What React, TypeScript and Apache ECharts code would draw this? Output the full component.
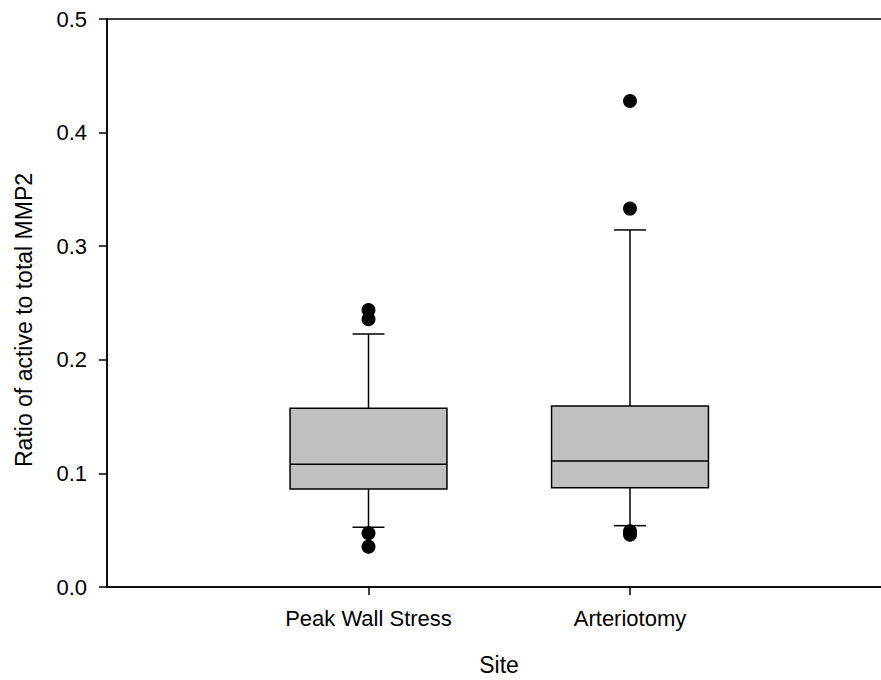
import React, { useEffect, useRef } from "react";
import * as echarts from "echarts";

// Sites on the x axis and where they sit on the value scale
const sites = ["Peak Wall Stress", "Arteriotomy"];
const sitePositions = [1, 2];

// Box summary per site
const lowerWhisker = [0.0526, 0.054];
const quartile1 = [0.0863, 0.0874];
const medians = [0.108, 0.1109];
const quartile3 = [0.1573, 0.1593];
const upperWhisker = [0.2227, 0.3143];

// Points beyond the whiskers
const outliersPeakWallStress = [0.2438, 0.2357, 0.0473, 0.0355];
const outliersArteriotomy = [0.4278, 0.3331, 0.049, 0.046];

const yTicks = [0, 0.1, 0.2, 0.3, 0.4, 0.5];

const FONT = 'Arial, "Liberation Sans", Helvetica, sans-serif';

export default function App() {
  const ref = useRef<HTMLDivElement>(null);

  useEffect(() => {
    if (!ref.current) return;
    const chart = echarts.init(ref.current, undefined, { renderer: "svg" });

    const boxData = sitePositions.map((x, i) => [
      x,
      lowerWhisker[i],
      quartile1[i],
      medians[i],
      quartile3[i],
      upperWhisker[i],
    ]);

    const outlierData = [
      ...outliersPeakWallStress.map((v) => [sitePositions[0], v]),
      ...outliersArteriotomy.map((v) => [sitePositions[1], v]),
    ];

    const line = (x1: number, y1: number, x2: number, y2: number) => ({
      type: "line",
      shape: { x1, y1, x2, y2 },
      style: { stroke: "#000", lineWidth: 1.5 },
    });

    chart.setOption({
      animation: false,
      grid: {
        left: 107,
        top: 19,
        right: -10.5,
        bottom: 93,
        outerBoundsMode: "none",
        containLabel: false,
        show: true,
        borderColor: "#000",
        borderWidth: 1.5,
        backgroundColor: "transparent",
      },
      xAxis: {
        type: "value",
        min: 0,
        max: 3,
        interval: 1,
        axisLine: { show: true, onZero: false, lineStyle: { color: "#000", width: 1.5 } },
        axisTick: {
          show: true,
          inside: false,
          length: 8,
          customValues: sitePositions,
          lineStyle: { color: "#000", width: 1.5 },
        },
        axisLabel: {
          customValues: sitePositions,
          formatter: (v: number) => {
            const i = sitePositions.indexOf(Math.round(v));
            return i >= 0 ? sites[i] : "";
          },
          color: "#000",
          fontSize: 22,
          fontFamily: FONT,
          margin: 20,
        },
        splitLine: { show: false },
      },
      yAxis: {
        type: "value",
        min: yTicks[0],
        max: yTicks[yTicks.length - 1],
        interval: 0.1,
        axisLine: { show: true, lineStyle: { color: "#000", width: 1.5 } },
        axisTick: { show: true, inside: false, length: 8, lineStyle: { color: "#000", width: 1.5 } },
        axisLabel: {
          formatter: (v: number) => v.toFixed(1),
          color: "#000",
          fontSize: 22,
          fontFamily: FONT,
          margin: 20,
        },
        splitLine: { show: false },
      },
      series: [
        {
          type: "custom",
          data: boxData,
          encode: { x: 0, y: [1, 2, 3, 4, 5] },
          renderItem: (params: any, api: any) => {
            const x = api.value(0);
            const lo = api.coord([x, api.value(1)]);
            const q1 = api.coord([x, api.value(2)]);
            const md = api.coord([x, api.value(3)]);
            const q3 = api.coord([x, api.value(4)]);
            const hi = api.coord([x, api.value(5)]);
            const boxW = api.size([0.6, 0])[0];
            const capW = api.size([0.122, 0])[0];
            const cx = lo[0];
            return {
              type: "group",
              children: [
                line(cx, hi[1], cx, q3[1]),
                line(cx, q1[1], cx, lo[1]),
                line(cx - capW / 2, hi[1], cx + capW / 2, hi[1]),
                line(cx - capW / 2, lo[1], cx + capW / 2, lo[1]),
                {
                  type: "rect",
                  shape: { x: cx - boxW / 2, y: q3[1], width: boxW, height: q1[1] - q3[1] },
                  style: { fill: "#c0c0c0", stroke: "#000", lineWidth: 1.5 },
                },
                line(cx - boxW / 2, md[1], cx + boxW / 2, md[1]),
              ],
            };
          },
          z: 2,
        },
        {
          type: "scatter",
          data: outlierData,
          symbol: "circle",
          symbolSize: 14,
          itemStyle: { color: "#000", opacity: 1 },
          z: 3,
        },
      ],
      graphic: [
        {
          type: "text",
          x: 24,
          y: 320,
          rotation: Math.PI / 2,
          style: {
            text: "Ratio of active to total MMP2",
            fill: "#000",
            fontSize: 23,
            fontFamily: FONT,
            align: "center",
            verticalAlign: "middle",
          },
        },
        {
          type: "text",
          x: 499,
          y: 665,
          style: {
            text: "Site",
            fill: "#000",
            fontSize: 23,
            fontFamily: FONT,
            align: "center",
            verticalAlign: "middle",
          },
        },
      ],
    });

    return () => chart.dispose();
  }, []);

  return (
    <div
      ref={ref}
      style={{ position: "absolute", left: 0, top: 0, width: 881, height: 680 }}
    />
  );
}
